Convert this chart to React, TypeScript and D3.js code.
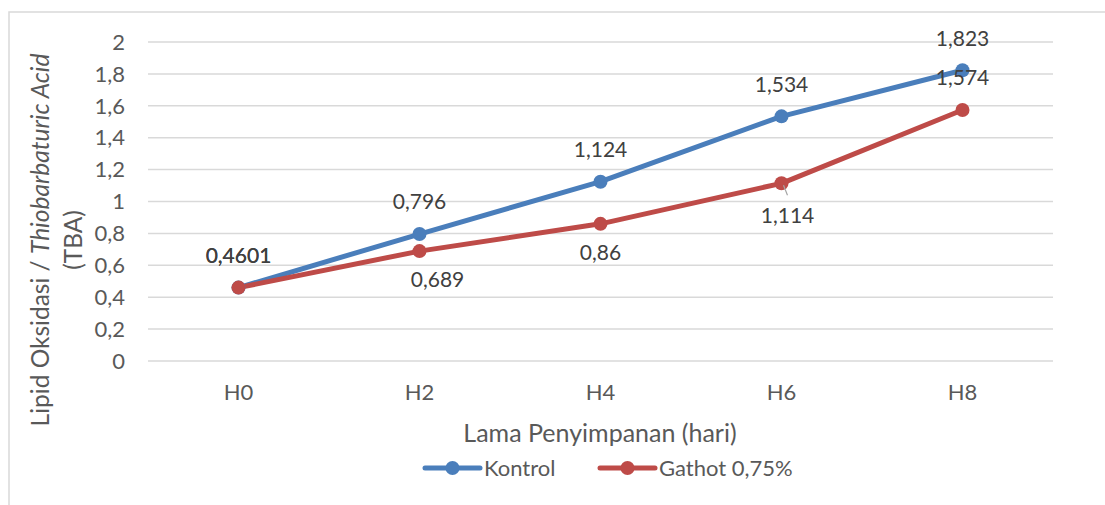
import React from "react";
import * as d3 from "d3";

const categories = ["H0", "H2", "H4", "H6", "H8"];
const kontrol = [0.4601, 0.796, 1.124, 1.534, 1.823];
const gathot = [0.4601, 0.689, 0.86, 1.114, 1.574];
const kontrolLabels = ["0,4601", "0,796", "1,124", "1,534", "1,823"];
const gathotLabels = ["0,4601", "0,689", "0,86", "1,114", "1,574"];
const yTicks = [0, 0.2, 0.4, 0.6, 0.8, 1, 1.2, 1.4, 1.6, 1.8, 2];
const seriesNames = ["Kontrol", "Gathot 0,75%"];

const BLUE = "#4A7EBB";
const RED = "#BE4B48";
const TXT = "#595959";
const FONT = "Lato, sans-serif";

// label placement (layout only): [dx, dy] relative to point
const gathotLabelOffset: [number, number][] = [[0, -32], [18, 29], [0, 29], [6, 32], [0, -32]];

export default function App() {
  const W = 1105, H = 505;
  const left = 148, right = 1053, top = 42, bottom = 361;
  const x = d3.scaleBand<string>().domain(categories).range([left, right]);
  const y = d3.scaleLinear().domain([0, 2]).range([bottom, top]);
  const cx = (c: string) => (x(c) as number) + x.bandwidth() / 2;
  const line = d3.line<number>().x((_, i) => cx(categories[i])).y((d) => y(d));
  const fmtTick = (v: number) => d3.format("~g")(v).replace(".", ",");

  return (
    <svg width={W} height={H} style={{ position: "absolute", left: 0, top: 0, background: "#fff" }} fontFamily={FONT}>
      <rect x={9} y={12} width={1200} height={600} fill="#fff" stroke="#D9D9D9" strokeWidth={1.5} />
      {yTicks.map((t) => (
        <g key={t}>
          <line x1={left} x2={right} y1={y(t)} y2={y(t)} stroke="#D9D9D9" strokeWidth={1.5} />
          <text x={125} y={y(t)} dy="0.35em" textAnchor="end" fontSize={22} fill={TXT}>{fmtTick(t)}</text>
        </g>
      ))}
      {categories.map((c) => (
        <text key={c} x={cx(c)} y={392} dy="0.35em" textAnchor="middle" fontSize={22} fill={TXT}>{c}</text>
      ))}
      <text x={600} y={433} dy="0.35em" textAnchor="middle" fontSize={25} fill={TXT}>Lama Penyimpanan (hari)</text>
      <g transform="translate(40,240) rotate(-90)">
        <text x={0} y={0} dy="0.35em" textAnchor="middle" fontSize={24.5} fill={TXT}>
          Lipid Oksidasi / <tspan fontStyle="italic">Thiobarbaturic Acid</tspan>
        </text>
      </g>
      <g transform="translate(73,240) rotate(-90)">
        <text x={0} y={0} dy="0.35em" textAnchor="middle" fontSize={24.5} fill={TXT}>(TBA)</text>
      </g>
      <path d={line(kontrol) as string} fill="none" stroke={BLUE} strokeWidth={5} strokeLinejoin="round" />
      <path d={line(gathot) as string} fill="none" stroke={RED} strokeWidth={5} strokeLinejoin="round" />
      {kontrol.map((v, i) => (
        <circle key={"k" + i} cx={cx(categories[i])} cy={y(v)} r={7} fill={BLUE} />
      ))}
      {gathot.map((v, i) => (
        <circle key={"g" + i} cx={cx(categories[i])} cy={y(v)} r={7} fill={RED} />
      ))}
      <line x1={cx("H6") + 2} y1={y(gathot[3]) + 2} x2={cx("H6") + 6} y2={y(gathot[3]) + 12} stroke="#A6A6A6" strokeWidth={1.2} />
      {kontrol.map((v, i) => (
        <text key={"kl" + i} x={cx(categories[i])} y={y(v) - 32} dy="0.35em" textAnchor="middle" fontSize={21} fill="#404040">{kontrolLabels[i]}</text>
      ))}
      {gathot.map((v, i) => (
        <text key={"gl" + i} x={cx(categories[i]) + gathotLabelOffset[i][0]} y={y(v) + gathotLabelOffset[i][1]} dy="0.35em" textAnchor="middle" fontSize={21} fill="#404040">{gathotLabels[i]}</text>
      ))}
      {seriesNames.map((n, i) => {
        const lx = i === 0 ? 425 : 600;
        const col = i === 0 ? BLUE : RED;
        return (
          <g key={n}>
            <line x1={lx} x2={lx + 55} y1={468} y2={468} stroke={col} strokeWidth={5} strokeLinecap="round" />
            <circle cx={lx + 27.5} cy={468} r={7} fill={col} />
            <text x={lx + 59} y={468} dy="0.35em" fontSize={22} fill={TXT}>{n}</text>
          </g>
        );
      })}
    </svg>
  );
}
